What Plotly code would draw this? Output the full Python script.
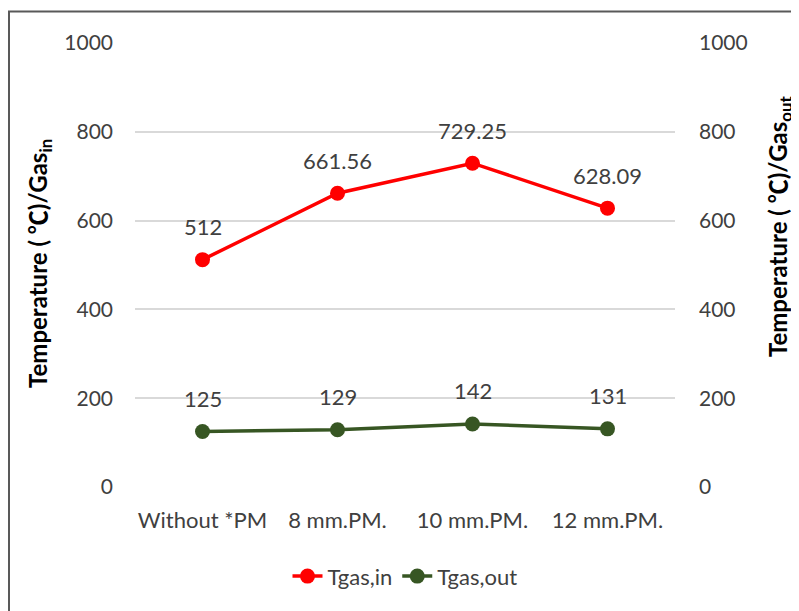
import plotly.graph_objects as go

categories = ["Without *PM", "8 mm.PM.", "10 mm.PM.", "12 mm.PM."]
tgas_in = [512, 661.56, 729.25, 628.09]
tgas_out = [125, 129, 142, 131]
tick_vals = [0, 200, 400, 600, 800, 1000]

OFF = 8  # page body margin
W, H = 799 - OFF, 611 - OFF
L, T = 135 - OFF, 42.5 - OFF
PR, PB = 675 - OFF, 487.5 - OFF
R, B = W - PR, H - PB
pw, ph = PR - L, PB - T

def px(x):
    return (x - OFF - L) / pw

def py(y):
    return (PB - (y - OFF)) / ph

FONT = "Lato"
RED = "#FF0000"
GREEN = "#375623"
TXT = "#404040"

fig = go.Figure()
fig.add_trace(go.Scatter(x=categories, y=tgas_in, name="Tgas,in", mode="lines+markers",
                         line=dict(color=RED, width=3.5), marker=dict(color=RED, size=15)))
fig.add_trace(go.Scatter(x=categories, y=tgas_out, name="Tgas,out", mode="lines+markers",
                         line=dict(color=GREEN, width=3.5), marker=dict(color=GREEN, size=15),
                         yaxis="y2"))

ann = []
for c, v in zip(categories, tgas_in):
    ann.append(dict(x=c, y=v, xref="x", yref="y", text=f"{v:g}", showarrow=False,
                    yshift=33, font=dict(family=FONT, size=22, color=TXT)))
for c, v in zip(categories, tgas_out):
    ann.append(dict(x=c, y=v, xref="x", yref="y2", text=f"{v:g}", showarrow=False,
                    yshift=33, font=dict(family=FONT, size=22, color=TXT)))

CEL = '<span style="font-family:Noto Sans CJK SC">℃</span>'
ann.append(dict(x=px(37), y=py(264), xref="paper", yref="paper", textangle=-90,
                xanchor="center", yanchor="middle",
                text=f"Temperature ( {CEL})/Gas<sub>in</sub>", showarrow=False,
                font=dict(family=FONT, size=24, color="black", weight="bold")))
ann.append(dict(x=px(777), y=py(226), xref="paper", yref="paper", textangle=-90,
                xanchor="center", yanchor="middle",
                text=f"Temperature ( {CEL})/Gas<sub>out</sub>", showarrow=False,
                font=dict(family=FONT, size=24, color="black", weight="bold")))

fig.update_layout(
    width=W, height=H,
    margin=dict(l=L, r=R, t=T, b=B, autoexpand=False),
    plot_bgcolor="white", paper_bgcolor="white",
    font=dict(family=FONT, size=21, color=TXT),
    xaxis=dict(range=[-0.5, 3.5], showgrid=False, showline=False, zeroline=False, ticks="",
               tickfont=dict(family=FONT, size=22, color=TXT), ticklabelstandoff=18),
    yaxis=dict(range=[0, 1000], tickvals=tick_vals, showgrid=True, gridcolor="#D9D9D9",
               gridwidth=1.5, zeroline=False, showline=False, ticks="",
               ticklabelstandoff=21, tickfont=dict(family=FONT, size=21, color=TXT)),
    yaxis2=dict(range=[0, 1000], tickvals=tick_vals, overlaying="y", side="right",
                showgrid=False, zeroline=False, showline=False, ticks="",
                ticklabelstandoff=23, tickfont=dict(family=FONT, size=21, color=TXT)),
    legend=dict(orientation="h", x=0.5, xanchor="center", y=py(577),
                yanchor="middle", font=dict(family=FONT, size=22, color=TXT)),
    annotations=ann,
    shapes=[dict(type="rect", xref="paper", yref="paper",
                 x0=px(9), x1=px(830), y0=py(640), y1=py(11),
                 line=dict(color="#595959", width=2))],
)

fig.write_html("out.html")
